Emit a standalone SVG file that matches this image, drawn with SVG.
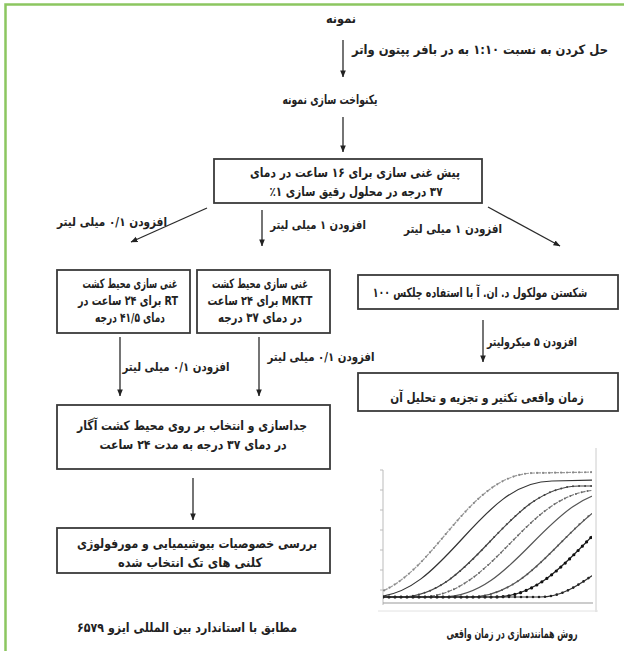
<svg xmlns="http://www.w3.org/2000/svg" width="624" height="651" viewBox="0 0 624 651">
<style>
text{font-family:"DejaVu Sans",sans-serif;font-weight:bold;fill:#222;text-anchor:middle;direction:rtl;unicode-bidi:embed}
.t{font-size:13px}
.l{font-size:12px}
.box{fill:#fff;stroke:#3a3a3a;stroke-width:1.8}
.con{stroke:#2a2a2a;stroke-width:1.3;fill:none;marker-end:url(#ah)}
.ax{stroke:#bbb;stroke-width:1;fill:none}
.cv{fill:none;stroke-width:1.2}
.dot{fill:none;stroke-linecap:round;stroke-dasharray:0 6}
</style>
<defs>
<marker id="ah" viewBox="0 0 8 8" refX="7.5" refY="4" markerWidth="7" markerHeight="7" markerUnits="userSpaceOnUse" orient="auto"><path d="M0,0.8 L8,4 L0,7.2 z" fill="#222"/></marker>
<clipPath id="cc"><rect x="383" y="440" width="209" height="170"/></clipPath>
</defs>
<rect width="624" height="651" fill="#fff"/>
<g id="frame" stroke="#8cc660" stroke-width="2.5" fill="none"><path d="M5.5,651 V4.5 H624"/></g>

<g id="n-sample"><text class="t" transform="translate(341,23) scale(0.857,1)" textLength="35" lengthAdjust="spacingAndGlyphs">نمونه</text></g>
<g id="n-homog"><text class="t" transform="translate(330,104) scale(0.714,1)" textLength="133" lengthAdjust="spacingAndGlyphs">یکنواخت سازی نمونه</text></g>
<g id="n-preenrich">
<rect class="box" x="214" y="159" width="268" height="44"/>
<text class="t" transform="translate(355,177) scale(0.792,1)" textLength="265" lengthAdjust="spacingAndGlyphs">پیش غنی سازی برای ۱۶ ساعت در دمای</text>
<text class="t" transform="translate(356,196) scale(0.844,1)" textLength="205" lengthAdjust="spacingAndGlyphs">۳۷ درجه در محلول رقیق سازی ۱٪</text>
</g>
<g id="n-rt">
<rect class="box" x="57" y="270" width="133" height="63"/>
<text class="t" transform="translate(130,288) scale(0.748,1)" textLength="127" lengthAdjust="spacingAndGlyphs">غنی سازی محیط کشت</text>
<text class="t" transform="translate(128,305) scale(0.73,1)" textLength="137" lengthAdjust="spacingAndGlyphs">RT برای ۲۴ ساعت در</text>
<text class="t" transform="translate(130,322) scale(0.673,1)" textLength="104" lengthAdjust="spacingAndGlyphs">دمای ۴۱/۵ درجه</text>
</g>
<g id="n-mktt">
<rect class="box" x="197" y="270" width="133" height="63"/>
<text class="t" transform="translate(260,288) scale(0.756,1)" textLength="127" lengthAdjust="spacingAndGlyphs">غنی سازی محیط کشت</text>
<text class="t" transform="translate(260,305) scale(0.84,1)" textLength="125" lengthAdjust="spacingAndGlyphs">MKTT برای ۲۴ ساعت</text>
<text class="t" transform="translate(260,322) scale(0.75,1)" textLength="112" lengthAdjust="spacingAndGlyphs">در دمای ۳۷ درجه</text>
</g>
<g id="n-dna">
<rect class="box" x="358" y="275" width="260" height="34"/>
<text class="t" transform="translate(480,297) scale(0.72,1)" textLength="298" lengthAdjust="spacingAndGlyphs">شکستن مولکول د. ان. آ با استفاده چلکس ۱۰۰</text>
</g>
<g id="n-pcr">
<rect class="box" x="358" y="373" width="260" height="38"/>
<text class="t" transform="translate(487,402) scale(0.8,1)" textLength="242" lengthAdjust="spacingAndGlyphs">زمان واقعی تکثیر و تجزیه و تحلیل آن</text>
</g>
<g id="n-isolate">
<rect class="box" x="57" y="405" width="273" height="64"/>
<text class="t" transform="translate(192,430) scale(0.83,1)" textLength="277" lengthAdjust="spacingAndGlyphs">جداسازی و انتخاب بر روی محیط کشت آگار</text>
<text class="t" transform="translate(193,449) scale(0.8,1)" textLength="234" lengthAdjust="spacingAndGlyphs">در دمای ۳۷ درجه به مدت ۲۴ ساعت</text>
</g>
<g id="n-charact">
<rect class="box" x="57" y="528" width="273" height="45"/>
<text class="t" transform="translate(197,548) scale(0.82,1)" textLength="293" lengthAdjust="spacingAndGlyphs">بررسی خصوصیات بیوشیمیایی و مورفولوژی</text>
<text class="t" transform="translate(190,567) scale(0.89,1)" textLength="162" lengthAdjust="spacingAndGlyphs">کلنی های تک انتخاب شده</text>
</g>
<g id="n-iso"><text class="t" transform="translate(187,632) scale(0.856,1)" textLength="257" lengthAdjust="spacingAndGlyphs">مطابق با استاندارد بین المللی ایزو ۶۵۷۹</text></g>

<g id="n-chart">
<path class="ax" d="M383,470 V605 M380,470 H383 M380,490 H383 M380,510 H383 M380,530 H383 M380,550 H383 M380,570 H383 M380,590 H383"/>
<path d="M383,603 H593" stroke="#999" stroke-width="1" fill="none"/>
<path d="M596,448 V612" stroke="#ccc" stroke-width="1" fill="none"/>
<path d="M378,611 H598" stroke="#e2e2e2" stroke-width="1" fill="none"/>
<g clip-path="url(#cc)">
<path class="cv" stroke="#9a9a9a" stroke-dasharray="4 2" d="M355,597 C430,597 460,473 535,473 L600,472"/>
<path class="dot" stroke="#888" stroke-width="2.2" d="M355,597 C430,597 460,473 535,473 L600,472"/>
<path class="cv" stroke="#333" stroke-width="1.5" d="M383,597 L372,597 C446,597 478,481 552,481 L600,480"/>
<path class="cv" stroke="#444" d="M383,597 L400,597 C475,597 505,486 580,486 L600,486"/>
<path class="dot" stroke="#444" stroke-width="2" d="M383,597 L400,597 C475,597 505,486 580,486 L600,486"/>
<path class="cv" stroke="#777" stroke-dasharray="4 2" d="M383,597 L420,597 C495,597 525,490 600,490"/>
<path class="dot" stroke="#666" stroke-width="2" d="M383,597 L420,597 C495,597 525,490 600,490"/>
<path class="cv" stroke="#555" d="M383,597 L442,597 C517,597 547,490 622,490"/>
<path class="cv" stroke="#555" d="M383,597 L470,597 C545,597 575,490 650,490"/>
<path class="dot" stroke="#555" stroke-width="2" d="M383,597 L470,597 C545,597 575,490 650,490"/>
<path class="cv" stroke="#222" d="M383,597 L495,597 C570,597 600,490 675,490"/>
<path class="dot" stroke="#111" stroke-width="3.2" d="M383,597 L495,597 C570,597 600,490 675,490"/>
<path class="cv" stroke="#333" d="M383,597 L540,597 C560,597 575,588 600,570"/>
<path class="dot" stroke="#222" stroke-width="2.6" d="M383,597 L540,597 C560,597 575,588 600,570"/>
</g>
<text class="t" transform="translate(512,638) scale(0.61,1)" textLength="215" lengthAdjust="spacingAndGlyphs">روش همانندسازی در زمان واقعی</text>
</g>

<g id="connectors">
<line class="con" x1="343" y1="40" x2="343" y2="77"/>
<line class="con" x1="343" y1="117" x2="343" y2="152"/>
<line class="con" x1="207" y1="208" x2="131" y2="242"/>
<line class="con" x1="262" y1="210" x2="262" y2="246"/>
<line class="con" x1="488" y1="207" x2="560" y2="246"/>
<line class="con" x1="120" y1="337" x2="120" y2="396"/>
<line class="con" x1="259" y1="337" x2="259" y2="396"/>
<line class="con" x1="483" y1="320" x2="483" y2="362"/>
<line class="con" x1="193" y1="478" x2="193" y2="520"/>
<text class="t" transform="translate(480,54)" textLength="256" lengthAdjust="spacingAndGlyphs">حل کردن به نسبت ۱:۱۰ به در بافر پپتون واتر</text>
<text class="l" transform="translate(112,226) scale(0.873,1)" textLength="126" lengthAdjust="spacingAndGlyphs">افزودن ۰/۱ میلی لیتر</text>
<text class="l" transform="translate(318,229) scale(0.84,1)" textLength="114" lengthAdjust="spacingAndGlyphs">افزودن ۱ میلی لیتر</text>
<text class="l" transform="translate(453,233) scale(0.86,1)" textLength="114" lengthAdjust="spacingAndGlyphs">افزودن ۱ میلی لیتر</text>
<text class="l" transform="translate(176,371) scale(0.85,1)" textLength="126" lengthAdjust="spacingAndGlyphs">افزودن ۰/۱ میلی لیتر</text>
<text class="l" transform="translate(321,361) scale(0.85,1)" textLength="126" lengthAdjust="spacingAndGlyphs">افزودن ۰/۱ میلی لیتر</text>
<text class="l" transform="translate(532,346) scale(0.79,1)" textLength="114" lengthAdjust="spacingAndGlyphs">افزودن ۵ میکرولیتر</text>
</g>
</svg>
